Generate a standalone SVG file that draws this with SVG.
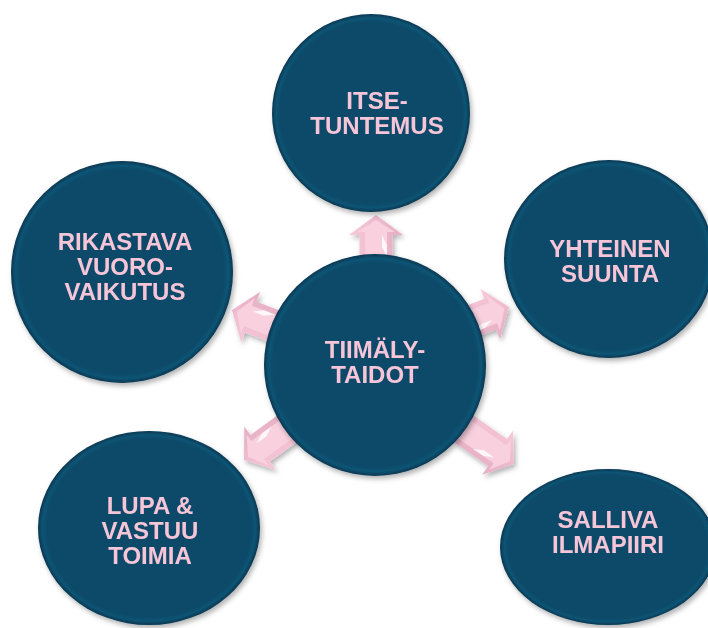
<svg xmlns="http://www.w3.org/2000/svg" width="708" height="628" viewBox="0 0 708 628">
  <style>
    .disc { fill: url(#discGrad); filter: url(#shadow); }
    .label { font-family: "Liberation Sans", Arial, sans-serif; font-weight: bold; font-size: 24px; fill: #f6c5d8; text-anchor: middle; }
    .arrowOuter { fill: url(#arrowGrad); }
    .arrowInner { fill: #f8d0de; }
    .arrowHi { fill: #ffffff; opacity: 0.8; }
  </style>
  <defs>
    <radialGradient id="discGrad" cx="0.5" cy="0.5" r="0.5">
      <stop offset="0" stop-color="#0a4968"/>
      <stop offset="0.92" stop-color="#0b4a69"/>
      <stop offset="0.96" stop-color="#105474"/>
      <stop offset="1" stop-color="#063650"/>
    </radialGradient>
    <linearGradient id="arrowGrad" x1="0" y1="0" x2="0" y2="1">
      <stop offset="0" stop-color="#f6c9d9"/>
      <stop offset="1" stop-color="#e6adc2"/>
    </linearGradient>
    <filter id="shadow" x="-20%" y="-20%" width="140%" height="140%">
      <feDropShadow dx="2" dy="3" stdDeviation="2.5" flood-color="#000000" flood-opacity="0.3"/>
    </filter>
    <g id="arrow">
      <path class="arrowOuter" d="M0,0 L-20,-27 L-20,-16.5 L-62,-16.5 L-62,16.5 L-20,16.5 L-20,27 Z"/>
      <path class="arrowInner" d="M-5,0 L-17,-19 L-17,-11 L-62,-11 L-62,11 L-17,11 L-17,19 Z"/>
      <path class="arrowHi" d="M-20,6 L-30,11 L-42,11 L-32,6 Z"/>
    </g>
  </defs>

  <rect width="708" height="628" fill="#ffffff"/>

  <g id="connectors" filter="url(#shadow)">
    <use href="#arrow" transform="translate(376,215) rotate(-90)"/>
    <use href="#arrow" transform="translate(232,310) rotate(200.8)"/>
    <use href="#arrow" transform="translate(509,307) rotate(-21)"/>
    <use href="#arrow" transform="translate(244,460) rotate(144)"/>
    <use href="#arrow" transform="translate(514,464) rotate(35)"/>
  </g>

  <g id="node-center">
    <circle class="disc" cx="375" cy="365" r="111"/>
    <text class="label" x="375" y="358">TIIMÄLY-</text>
    <text class="label" x="375" y="383">TAIDOT</text>
  </g>

  <g id="node-top">
    <circle class="disc" cx="371" cy="113" r="99"/>
    <text class="label" x="377" y="109">ITSE-</text>
    <text class="label" x="377" y="134">TUNTEMUS</text>
  </g>

  <g id="node-left">
    <circle class="disc" cx="122" cy="272" r="111"/>
    <text class="label" x="125" y="250">RIKASTAVA</text>
    <text class="label" x="125" y="275">VUORO-</text>
    <text class="label" x="125" y="300">VAIKUTUS</text>
  </g>

  <g id="node-right">
    <ellipse class="disc" cx="609" cy="259" rx="105" ry="99"/>
    <text class="label" x="610" y="257">YHTEINEN</text>
    <text class="label" x="610" y="282">SUUNTA</text>
  </g>

  <g id="node-bottom-left">
    <ellipse class="disc" cx="149" cy="528" rx="111" ry="97"/>
    <text class="label" x="150" y="514">LUPA &amp;</text>
    <text class="label" x="150" y="539">VASTUU</text>
    <text class="label" x="150" y="564">TOIMIA</text>
  </g>

  <g id="node-bottom-right">
    <ellipse class="disc" cx="608" cy="547" rx="108" ry="78"/>
    <text class="label" x="608" y="528">SALLIVA</text>
    <text class="label" x="608" y="553">ILMAPIIRI</text>
  </g>
</svg>
